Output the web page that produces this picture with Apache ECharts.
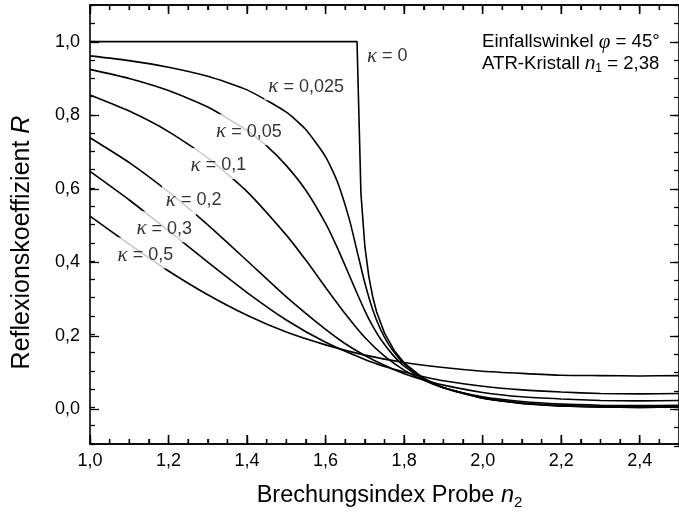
<!DOCTYPE html>
<html><head><meta charset="utf-8">
<script src="https://cdn.jsdelivr.net/npm/echarts@6/dist/echarts.min.js"></script>
<style>html,body{margin:0;padding:0;background:#fff}#c{width:679px;height:515px}</style>
</head><body><div id="c"></div>
<script>
// ---- data ----
const n_k0   = [1.0,1.68,1.69,1.70,1.71,1.72,1.73,1.75,1.775,1.8,1.85,1.9,2.0,2.1,2.2,2.3,2.4,2.5];
const R_k0   = [1.0,1.0,0.585,0.440,0.358,0.302,0.261,0.203,0.155,0.122,0.079,0.054,0.025,0.011,0.004,0.001,0.000,0.001];
const n_k025 = [1.0,1.1,1.2,1.3,1.4,1.5,1.55,1.6,1.63,1.66,1.68,1.70,1.72,1.74,1.76,1.78,1.8,1.85,1.9,2.0,2.1,2.2,2.3,2.4,2.5];
const R_k025 = [0.961,0.948,0.930,0.905,0.868,0.807,0.759,0.685,0.617,0.516,0.428,0.340,0.267,0.213,0.173,0.143,0.119,0.079,0.054,0.025,0.011,0.004,0.001,0.000,0.001];
const n_k05  = [1.0,1.1,1.2,1.3,1.4,1.45,1.5,1.55,1.6,1.63,1.66,1.68,1.70,1.72,1.74,1.77,1.8,1.85,1.9,2.0,2.1,2.2,2.3,2.4,2.5];
const R_k05  = [0.924,0.899,0.866,0.821,0.757,0.715,0.661,0.593,0.503,0.436,0.362,0.312,0.264,0.222,0.187,0.145,0.113,0.077,0.054,0.026,0.012,0.005,0.002,0.001,0.002];
const n_k1   = [1.0,1.1,1.2,1.3,1.4,1.5,1.55,1.6,1.65,1.7,1.75,1.8,1.85,1.9,2.0,2.1,2.2,2.3,2.4,2.5];
const R_k1   = [0.854,0.810,0.754,0.682,0.590,0.471,0.402,0.328,0.256,0.191,0.140,0.102,0.074,0.054,0.029,0.016,0.009,0.006,0.005,0.006];
const n_k2   = [1.0,1.1,1.2,1.3,1.4,1.5,1.6,1.65,1.7,1.75,1.8,1.85,1.9,2.0,2.1,2.2,2.3,2.4,2.5];
const R_k2   = [0.737,0.669,0.589,0.499,0.401,0.302,0.213,0.174,0.142,0.115,0.092,0.075,0.061,0.041,0.029,0.023,0.019,0.018,0.019];
const n_k3   = [1.0,1.1,1.2,1.3,1.4,1.5,1.6,1.7,1.75,1.8,1.85,1.9,2.0,2.1,2.2,2.3,2.4,2.5];
const R_k3   = [0.645,0.567,0.483,0.397,0.314,0.239,0.178,0.131,0.112,0.097,0.084,0.073,0.058,0.048,0.042,0.038,0.037,0.038];
const n_k5   = [1.0,1.1,1.2,1.3,1.4,1.5,1.6,1.7,1.8,1.9,2.0,2.1,2.2,2.3,2.4,2.5];
const R_k5   = [0.523,0.446,0.373,0.308,0.252,0.206,0.171,0.143,0.123,0.109,0.099,0.093,0.088,0.087,0.086,0.087];

const kappaText = ['0','0,025','0,05','0,1','0,2','0,3','0,5'];
// label anchor positions (data units, left-middle of text)
const kLabelX = [1.695,1.444,1.311,1.246,1.183,1.108,1.060];
const kLabelY = [0.966,0.882,0.759,0.667,0.571,0.494,0.422];

// tick values of the n2 axis (drawn on bottom and top edges)
const xMajorTicks = [1.0,1.2,1.4,1.6,1.8,2.0,2.2,2.4];
const xMinorTicks = [1.05,1.1,1.15,1.25,1.3,1.35,1.45,1.5,1.55,1.65,1.7,1.75,1.85,1.9,1.95,2.05,2.1,2.15,2.25,2.3,2.35,2.45];

// axis ranges / tick steps
const xMin = 1.0, xMax = 2.5, xMajorStep = 0.2, xMinorStep = 0.05;
const yMin = -0.1, yMax = 1.1, yMinorStep = 0.05;
const yLabMin = 0.0, yLabMax = 1.0, yMajorStep = 0.2;

// ---- chart ----
const FONT = 'Liberation Sans, Arial, Helvetica, sans-serif';
const SERIF = 'Liberation Serif, Times New Roman, serif';
const fmt = v => v.toFixed(1).replace('.', ',');
const MAJOR_LEN = 9, MINOR_LEN = 5;
function tick(len) { return {show:true, inside:true, length:len, lineStyle:{color:'#000', width:1.3}}; }
function line(show) { return show ? {show:true, onZero:false, lineStyle:{color:'#000', width:1.6}} : {show:false}; }

const G_FRAME = {left:90, top:5, width:598, height:441};
const G_UNIT  = {left:90, top:41.75, width:598, height:367.5};   // 0..1 part of the frame

const xAxes = [
  {gridIndex:0, type:'value', position:'bottom', min:xMin, max:xMax, interval:xMinorStep,
   axisLine:line(true), axisTick:tick(MINOR_LEN), axisLabel:{show:false}, splitLine:{show:false}},
  {gridIndex:0, type:'value', position:'bottom', min:xMin, max:xMax, interval:xMajorStep,
   axisLine:line(true), axisTick:tick(MAJOR_LEN), splitLine:{show:false},
   axisLabel:{show:true, formatter:fmt, color:'#000', fontFamily:FONT, fontSize:18, margin:8,
              showMinLabel:true, showMaxLabel:false},
   name:'Brechungsindex Probe {i|n}{s|2}', nameLocation:'middle', nameGap:37,
   nameTextStyle:{color:'#000', fontFamily:FONT, fontSize:23.5, padding:[0,0,0,10],
     rich:{i:{fontFamily:FONT, fontStyle:'italic', fontSize:23.5, color:'#000'},
           s:{fontFamily:FONT, fontSize:15, color:'#000', padding:[14,0,0,0]}}}},
  {gridIndex:1, type:'value', show:false, min:xMin, max:xMax},
  {gridIndex:2, type:'value', position:'top', min:xMin, max:xMax, interval:xMinorStep,
   axisLine:line(true), axisTick:tick(MINOR_LEN), axisLabel:{show:false}, splitLine:{show:false}},
  {gridIndex:2, type:'value', position:'top', min:xMin, max:xMax, interval:xMajorStep,
   axisLine:line(true), axisTick:tick(MAJOR_LEN), axisLabel:{show:false}, splitLine:{show:false}},
  {gridIndex:3, type:'value', show:false, min:xMin, max:xMax}
];
const yAxes = [
  {gridIndex:0, type:'value', position:'left', min:yMin, max:yMax, interval:yMinorStep,
   axisLine:line(true), axisTick:tick(MINOR_LEN), axisLabel:{show:false}, splitLine:{show:false}},
  {gridIndex:1, type:'value', position:'left', min:yLabMin, max:yLabMax, interval:yMajorStep,
   axisLine:line(false), axisTick:tick(MAJOR_LEN), splitLine:{show:false},
   axisLabel:{show:true, formatter:fmt, color:'#000', fontFamily:FONT, fontSize:18, margin:10},
   name:'Reflexionskoeffizient {i|R}', nameLocation:'middle', nameGap:55,
   nameTextStyle:{color:'#000', fontFamily:FONT, fontSize:25, padding:[0,34,0,0],
     rich:{i:{fontFamily:FONT, fontStyle:'italic', fontSize:25, color:'#000'}}}},
  {gridIndex:2, type:'value', position:'right', min:yMin, max:yMax, interval:yMinorStep,
   axisLine:line(true), axisTick:tick(MINOR_LEN), axisLabel:{show:false}, splitLine:{show:false}},
  {gridIndex:3, type:'value', position:'right', min:yLabMin, max:yLabMax, interval:yMajorStep,
   axisLine:line(false), axisTick:tick(MAJOR_LEN), axisLabel:{show:false}, splitLine:{show:false}}
];

const curves = [[n_k0,R_k0],[n_k025,R_k025],[n_k05,R_k05],[n_k1,R_k1],[n_k2,R_k2],[n_k3,R_k3],[n_k5,R_k5]];
const series = curves.map((c, i) => ({
  type:'line', xAxisIndex:0, yAxisIndex:0,
  data: c[0].map((x, j) => [x, c[1][j]]),
  showSymbol:false, symbol:'none',
  smooth: i === 0 ? false : 0.2,
  lineStyle:{color:'#000', width:1.6}, z:2, silent:true
}));
// x-axis tick marks on bottom and top edge, positioned through the x scale
series.push({
  type:'custom', xAxisIndex:0, yAxisIndex:0, silent:true, z:3, clip:false,
  data: xMajorTicks.map(v => [v, MAJOR_LEN]).concat(xMinorTicks.map(v => [v, MINOR_LEN])),
  renderItem: (params, api) => {
    const v = api.value(0), len = api.value(1);
    const pb = api.coord([v, yMin]);
    const pt = api.coord([v, yMax]);
    return {type:'group', children:[
      {type:'line', shape:{x1:pb[0], y1:pb[1], x2:pb[0], y2:pb[1] - len}, style:{stroke:'#000', lineWidth:1.3}},
      {type:'line', shape:{x1:pt[0], y1:pt[1], x2:pt[0], y2:pt[1] + len}, style:{stroke:'#000', lineWidth:1.3}}
    ]};
  }
});
series.push({
  type:'scatter', xAxisIndex:0, yAxisIndex:0, symbolSize:0, z:10, silent:true,
  data: kLabelX.map((x, i) => ({value:[x, kLabelY[i]], name:kappaText[i]})),
  label:{show:true, position:'right', distance:0,
    formatter: p => '{k|κ} = ' + p.name,
    color:'#000', fontFamily:FONT, fontSize:18,
    backgroundColor:'#fff', padding:[7,4,3,4],
    rich:{k:{fontFamily:SERIF, fontStyle:'italic', fontSize:21, color:'#000'}}
  }
});

const chart = echarts.init(document.getElementById('c'), null, {renderer:'canvas'});
chart.setOption({
  animation:false,
  grid:[G_FRAME, G_UNIT, Object.assign({}, G_FRAME), Object.assign({}, G_UNIT)],
  xAxis:xAxes, yAxis:yAxes,
  title:{
    text:'Einfallswinkel {g|φ} = 45°\nATR-Kristall {i|n}{s|1} = 2,38',
    left:477, top:26,
    textStyle:{color:'#000', fontFamily:FONT, fontSize:18.6, fontWeight:'normal', lineHeight:22,
      rich:{g:{fontFamily:SERIF, fontStyle:'italic', fontSize:21, color:'#000', lineHeight:22},
            i:{fontFamily:FONT, fontStyle:'italic', fontSize:18.6, color:'#000', lineHeight:22},
            s:{fontFamily:FONT, fontSize:12, color:'#000', lineHeight:22, padding:[10,0,0,0]}}}
  },
  series:series
});
</script></body></html>
